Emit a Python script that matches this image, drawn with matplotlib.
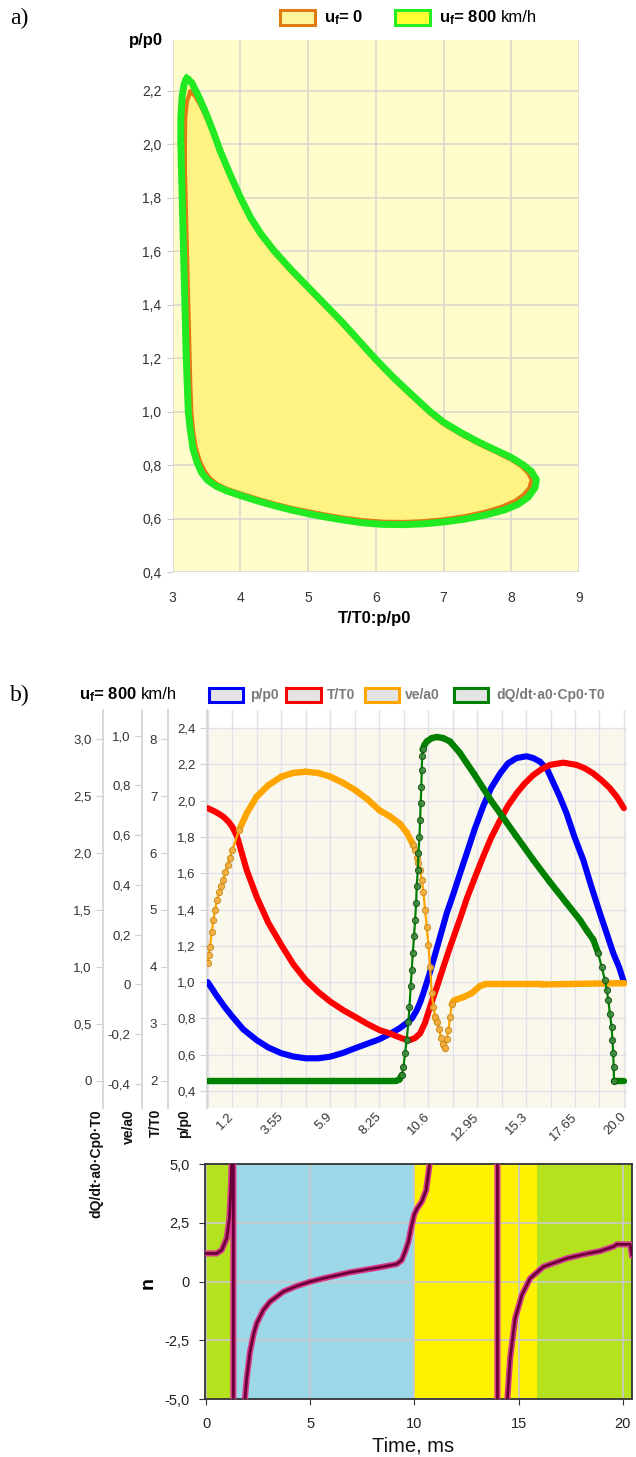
import numpy as np
import matplotlib
matplotlib.use('Agg')
import matplotlib.pyplot as plt
from matplotlib.patches import Rectangle
from matplotlib.collections import LineCollection
import matplotlib.patheffects as pe

# ---------------- DATA ----------------
# Panel a: closed cycles  (x = T/T0:p/p0, y = p/p0)
loop800_x = [3.21, 3.28, 3.38, 3.5, 3.6, 3.7, 3.85, 4.0, 4.15, 4.3,
             4.5, 4.75, 5.0, 5.25, 5.5, 5.75, 6.0, 6.25, 6.5, 6.8,
             7.0, 7.25, 7.5, 7.75, 8.0, 8.18, 8.3, 8.37, 8.35, 8.25,
             8.1, 7.9, 7.6, 7.3, 7.0, 6.7, 6.4, 6.1, 5.8, 5.5,
             5.2, 5.0, 4.75, 4.5, 4.25, 4.0, 3.8, 3.65, 3.52, 3.43,
             3.36, 3.3, 3.26, 3.23, 3.215, 3.2, 3.19, 3.18, 3.17, 3.16,
             3.15, 3.14, 3.13, 3.12, 3.12, 3.14, 3.17, 3.21]
loop800_y = [2.245, 2.23, 2.18, 2.11, 2.045, 1.975, 1.885, 1.80, 1.725, 1.665,
             1.60, 1.53, 1.465, 1.40, 1.335, 1.265, 1.195, 1.13, 1.07, 1.0,
             0.96, 0.922, 0.888, 0.858, 0.828, 0.80, 0.775, 0.745, 0.715, 0.68,
             0.653, 0.632, 0.612, 0.597, 0.587, 0.58, 0.577, 0.578, 0.584, 0.595,
             0.608, 0.618, 0.632, 0.648, 0.666, 0.686, 0.703, 0.72, 0.742, 0.77,
             0.81, 0.86, 0.93, 1.0, 1.1, 1.2, 1.3, 1.4, 1.5, 1.6,
             1.7, 1.8, 1.9, 2.0, 2.1, 2.18, 2.225, 2.245]
loop0_x = [3.26, 3.33, 3.42, 3.52, 3.62, 3.72, 3.86, 4.0, 4.15, 4.3,
           4.5, 4.75, 5.0, 5.25, 5.5, 5.75, 6.0, 6.25, 6.5, 6.8,
           7.0, 7.25, 7.5, 7.75, 8.0, 8.15, 8.25, 8.3, 8.27, 8.18,
           8.05, 7.85, 7.6, 7.3, 7.0, 6.7, 6.4, 6.1, 5.8, 5.5,
           5.2, 5.0, 4.75, 4.5, 4.25, 4.0, 3.8, 3.66, 3.55, 3.47,
           3.4, 3.34, 3.3, 3.275, 3.26, 3.25, 3.24, 3.23, 3.22, 3.21,
           3.2, 3.19, 3.18, 3.18, 3.185, 3.21, 3.26]
loop0_y = [2.195, 2.18, 2.14, 2.085, 2.025, 1.96, 1.876, 1.793, 1.718, 1.658,
           1.593, 1.523, 1.458, 1.393, 1.328, 1.258, 1.188, 1.123, 1.063, 0.993,
           0.953, 0.915, 0.881, 0.851, 0.82, 0.795, 0.77, 0.745, 0.715, 0.688,
           0.665, 0.643, 0.624, 0.608, 0.597, 0.59, 0.587, 0.588, 0.594, 0.604,
           0.617, 0.627, 0.64, 0.656, 0.674, 0.694, 0.711, 0.728, 0.75, 0.778,
           0.815, 0.865, 0.93, 1.0, 1.1, 1.2, 1.3, 1.4, 1.5, 1.6,
           1.7, 1.8, 1.9, 2.0, 2.1, 2.16, 2.195]
a_xticks = [3, 4, 5, 6, 7, 8, 9]
a_xticklabels = ['3', '4', '5', '6', '7', '8', '9']
a_yticks = [0.4, 0.6, 0.8, 1.0, 1.2, 1.4, 1.6, 1.8, 2.0, 2.2]
a_yticklabels = ['0,4', '0,6', '0,8', '1,0', '1,2', '1,4', '1,6', '1,8', '2,0', '2,2']

# Panel b: time series (ms)
time_p = [0, 0.4, 0.8, 1.18, 1.7, 2.35, 2.9, 3.53, 4.1, 4.7,
          5.3, 5.88, 6.5, 7.06, 7.65, 8.24, 8.75, 9.2, 9.55, 9.8,
          10.03, 10.2, 10.35, 10.6, 10.83, 11.15, 11.47, 11.8, 12.11, 12.43,
          12.8, 13.22, 13.6, 14.03, 14.4, 14.82, 15.3, 15.62, 15.95, 16.3,
          16.58, 16.9, 17.22, 17.6, 18.02, 18.4, 18.82, 19.2, 19.46, 19.75, 19.97]
p_p0 = [1.0, 0.93, 0.865, 0.81, 0.74, 0.68, 0.64, 0.608, 0.59, 0.58,
        0.58, 0.589, 0.61, 0.635, 0.66, 0.685, 0.715, 0.745, 0.775, 0.80,
        0.845, 0.89, 0.94, 1.03, 1.12, 1.25, 1.38, 1.49, 1.60, 1.71,
        1.84, 1.97, 2.07, 2.15, 2.205, 2.235, 2.245, 2.235, 2.215, 2.17,
        2.1, 2.02, 1.93, 1.80, 1.674, 1.53, 1.38, 1.25, 1.16, 1.08, 1.0]

time_T = [0, 0.4, 0.75, 1.0, 1.18, 1.4, 1.55, 1.87, 2.35, 2.9,
          3.53, 4.1, 4.7, 5.3, 5.88, 6.5, 7.06, 7.65, 8.24, 8.75,
          9.07, 9.4, 9.71, 9.95, 10.19, 10.43, 10.67, 11.0, 11.31, 11.63,
          12.11, 12.43, 12.8, 13.22, 13.6, 14.03, 14.4, 14.82, 15.2, 15.62,
          16.0, 16.42, 17.06, 17.7, 18.1, 18.5, 18.9, 19.3, 19.65, 19.97]
T_T0 = [6.79, 6.72, 6.64, 6.55, 6.46, 6.3, 6.11, 5.70, 5.23, 4.78,
        4.385, 4.05, 3.77, 3.56, 3.39, 3.24, 3.125, 3.0, 2.89, 2.83,
        2.78, 2.735, 2.715, 2.75, 2.83, 3.02, 3.30, 3.65, 4.0, 4.35,
        4.85, 5.2, 5.55, 5.94, 6.27, 6.58, 6.83, 7.05, 7.22, 7.37,
        7.47, 7.55, 7.59, 7.55, 7.49, 7.40, 7.28, 7.14, 6.98, 6.79]

time_ve = [0.0, 0.05, 0.11, 0.19, 0.27, 0.35, 0.45, 0.55, 0.65, 0.75, 0.85, 0.95, 1.06, 1.18,
           1.5, 1.87, 2.35, 2.9, 3.53, 4.1, 4.7, 5.3, 5.88, 6.5, 7.06, 7.65, 8.24, 8.75, 9.23, 9.55, 9.87,
           9.95, 10.03, 10.11, 10.19, 10.27, 10.35, 10.43, 10.51, 10.59, 10.67, 10.75, 10.83, 10.91,
           11.0, 11.1, 11.2, 11.3, 11.39, 11.47, 11.55, 11.63, 11.71,
           11.8, 11.95, 12.3, 12.67, 13.07, 13.3, 14.5, 16.0, 17.5, 19.0, 20.0]
ve_a0 = [0.085, 0.12, 0.152, 0.21, 0.259, 0.30, 0.34, 0.37, 0.395, 0.42, 0.45, 0.48, 0.51, 0.54,
         0.62, 0.688, 0.755, 0.80, 0.835, 0.85, 0.855, 0.85, 0.835, 0.81, 0.782, 0.745, 0.70, 0.675, 0.645, 0.61, 0.56,
         0.54, 0.51, 0.49, 0.46, 0.42, 0.37, 0.30, 0.23, 0.16, 0.07, -0.035, -0.09, -0.13,
         -0.15, -0.18, -0.215, -0.24, -0.257, -0.22, -0.183, -0.13, -0.08,
         -0.066, -0.06, -0.05, -0.035, -0.006, 0.0, 0.0, 0.0, 0.002, 0.004, 0.005]

time_dq = [0.0, 2.0, 4.0, 6.0, 8.0, 9.05, 9.2,
           9.31, 9.39, 9.47, 9.55, 9.63, 9.68, 9.74, 9.79, 9.84, 9.90, 9.95,
           10.0, 10.03, 10.08, 10.11, 10.16, 10.19, 10.22, 10.25, 10.27, 10.29, 10.31,
           10.4, 10.51, 10.75, 11.0, 11.3, 11.63, 12.1, 12.43, 12.8, 13.22, 13.6, 14.03, 14.8,
           15.62, 16.4, 17.22, 17.87, 18.19, 18.5,
           18.74, 18.9, 19.06, 19.15, 19.22, 19.3, 19.38, 19.42, 19.46, 19.48, 19.5, 19.75, 20.0]
dq = [0, 0, 0, 0, 0, 0, 0.01,
      0.05, 0.12, 0.24, 0.36, 0.52, 0.65, 0.83, 0.97, 1.12, 1.27, 1.41,
      1.56, 1.71, 1.85, 2.0, 2.14, 2.29, 2.44, 2.58, 2.73, 2.85, 2.91,
      2.95, 2.98, 3.01, 3.02, 3.01, 2.98, 2.88, 2.79, 2.69, 2.57, 2.46, 2.35, 2.15,
      1.94, 1.75, 1.56, 1.41, 1.32, 1.24,
      1.12, 1.0, 0.885, 0.80, 0.71, 0.59, 0.475, 0.36, 0.24, 0.12, 0.0, 0.0, 0.0]

b_xticks = [0, 1.175, 2.35, 3.525, 4.7, 5.875, 7.05, 8.225, 9.4, 10.575,
            11.75, 12.925, 14.1, 15.275, 16.45, 17.625, 18.8, 19.975]
b_xticklabels = ['', '1.2', '', '3.55', '', '5.9', '', '8.25', '', '10.6',
                 '', '12.95', '', '15.3', '', '17.65', '', '20.0']
p_ticks = [0.4, 0.6, 0.8, 1.0, 1.2, 1.4, 1.6, 1.8, 2.0, 2.2, 2.4]
p_labels = ['0,4', '0,6', '0,8', '1,0', '1,2', '1,4', '1,6', '1,8', '2,0', '2,2', '2,4']
T_ticks = [2, 3, 4, 5, 6, 7, 8]
T_labels = ['2', '3', '4', '5', '6', '7', '8']
ve_ticks = [-0.4, -0.2, 0.0, 0.2, 0.4, 0.6, 0.8, 1.0]
ve_labels = ['-0,4', '-0,2', '0', '0,2', '0,4', '0,6', '0,8', '1,0']
dq_ticks = [0, 0.5, 1.0, 1.5, 2.0, 2.5, 3.0]
dq_labels = ['0', '0,5', '1,0', '1,5', '2,0', '2,5', '3,0']

# Panel c: n(t)
time_n = [0.0, 0.51, 0.75, 0.99, 1.12, 1.2, 1.25, 1.31, 1.31, 1.8,
          1.87, 1.95, 2.11, 2.27, 2.43, 2.75, 3.07, 3.71, 4.35, 5.0,
          5.63, 6.91, 8.51, 9.15, 9.39, 9.55, 9.71, 9.87, 9.98, 10.11,
          10.35, 10.56, 10.72, 10.8, 13.98, 13.98, 14.4, 14.46, 14.59, 14.83,
          15.15, 15.55, 16.19, 17.31, 18.11, 18.91, 19.3, 19.55, 19.71, 20.35, 20.43]
n_vals = [1.2, 1.2, 1.34, 1.84, 2.69, 4.1, 6.0, 60, -60, -8,
          -4.93, -4.11, -2.975, -2.27, -1.77, -1.207, -0.85, -0.425, -0.187, 0.0,
          0.14, 0.395, 0.637, 0.748, 0.918, 1.275, 1.70, 2.405, 2.83, 3.085,
          3.40, 3.89, 4.955, 7.0, 60, -60, -7.0, -4.93, -3.26, -1.56,
          -0.57, 0.14, 0.637, 0.99, 1.16, 1.30, 1.42, 1.49, 1.585, 1.585, 1.13]
band_edges = [-0.05, 1.31, 10.0, 15.87, 20.45]
band_colors = ['#B4E21E', '#9DD8E8', '#FFF200', '#B4E21E']
c_xticks = [0, 5, 10, 15, 20]
c_yticks = [-5.0, -2.5, 0.0, 2.5, 5.0]
c_ylabels = ['-5,0', '-2,5', '0', '2,5', '5,0']

# ---------------- STYLE ----------------
plt.rcParams['font.family'] = ['Liberation Sans', 'DejaVu Sans']
plt.rcParams['mathtext.fontset'] = 'custom'
plt.rcParams['mathtext.rm'] = 'Liberation Sans'
plt.rcParams['mathtext.bf'] = 'Liberation Sans:bold'
plt.rcParams['mathtext.it'] = 'Liberation Sans:italic'

W, H = 636, 1457
fig = plt.figure(figsize=(W / 100, H / 100), dpi=100)


def fx(px):
    return px / W


def fy(py):
    return 1 - py / H


def uf_label(x_px, y_px, value, tail, size=12):
    t1 = fig.text(fx(x_px), fy(y_px), r'$\mathbf{u_f}$= ' + value, fontsize=size,
                  fontweight='bold', ha='left', va='center')
    if tail:
        fig.canvas.draw()
        bb = t1.get_window_extent(fig.canvas.get_renderer())
        fig.text(bb.x1 / W + fx(3.5), fy(y_px), tail, fontsize=size, ha='left', va='center')


# ---------------- PANEL A ----------------
a_top, a_bot = 40.0, 572.0
axa = fig.add_axes([fx(172.7), fy(a_bot), fx(579) - fx(172.7), (a_bot - a_top) / H])
axa.set_facecolor('#FFFDCB')
axa.fill(loop800_x, loop800_y, color='#FFF796', lw=0, zorder=2)
axa.fill(loop0_x, loop0_y, color='#FFF383', lw=0, zorder=2.1)
axa.plot(loop0_x, loop0_y, color='#E07A12', lw=3.0, zorder=3, solid_joinstyle='round')
axa.plot(loop800_x, loop800_y, color='#22EA22', lw=5.0, zorder=4, solid_joinstyle='round')
axa.set_xlim(3, 9)
axa.set_ylim(0.4, 2.389)
axa.set_xticks(a_xticks)
axa.set_xticklabels(a_xticklabels)
axa.set_yticks(a_yticks)
axa.set_yticklabels(a_yticklabels)
axa.grid(True, color='#DADACB', lw=1.2)
axa.set_axisbelow(True)
for s in axa.spines.values():
    s.set_visible(False)
axa.tick_params(axis='y', length=4, color='#CCCCCC', labelsize=10, labelcolor='#333333', pad=4)
axa.tick_params(axis='x', length=0, labelsize=10, labelcolor='#333333', pad=14)

fig.text(fx(10), fy(18), 'a)', family='Liberation Serif', fontsize=17, ha='left', va='center')
fig.text(fx(163), fy(40), 'p/p0', fontsize=12, fontweight='bold', ha='right', va='center')
fig.text(fx(375), fy(618), 'T/T0:p/p0', fontsize=12, fontweight='bold', ha='center', va='center')

fig.patches.append(Rectangle((fx(280), fy(25)), fx(35), 15 / H, transform=fig.transFigure,
                             facecolor='#FFF59A', edgecolor='#E07B10', lw=2.2))
uf_label(324, 17.5, '0', None)
fig.patches.append(Rectangle((fx(395), fy(25)), fx(35), 15 / H, transform=fig.transFigure,
                             facecolor='#FFFF33', edgecolor='#22EE22', lw=2.2))
uf_label(439, 17.5, '800', 'km/h')

# ---------------- PANEL B ----------------
bl, br, bt, bb_ = 206.7, 627.0, 710.0, 1108.0
axb = fig.add_axes([fx(bl), fy(bb_), fx(br) - fx(bl), (bb_ - bt) / H])
axb.set_facecolor('white')
axb.set_xlim(-0.05, 20.12)
axb.set_ylim(0.306, 2.5)
axb.axhspan(0.306, 2.4, color='#FAF8EC', lw=0, zorder=0)
axb.set_xticks(b_xticks)
axb.set_xticklabels(b_xticklabels)
axb.set_yticks(p_ticks)
axb.set_yticklabels(p_labels)
axb.grid(True, color='#E1E1E8', lw=1.0)
axb.set_axisbelow(True)
for k in ['top', 'right', 'bottom']:
    axb.spines[k].set_visible(False)
axb.spines['left'].set_color('#D8D8D8')
axb.spines['left'].set_linewidth(1.4)
axb.tick_params(axis='y', length=5, color='#D0D0D0', labelsize=9.5, labelcolor='#333333', pad=3)
axb.tick_params(axis='x', length=0, labelsize=9.5, labelcolor='#333333', pad=5)
for lab in axb.get_xticklabels():
    lab.set_rotation(45)
    lab.set_ha('right')
    lab.set_va('center')
    lab.set_rotation_mode('anchor')

axb.plot(time_p, p_p0, color='#0000FF', lw=4.4, solid_capstyle='round', zorder=3)


def side_axis(spine_px, ylim, ticks, labels):
    a = axb.twinx()
    a.set_ylim(*ylim)
    for k in ['right', 'top', 'bottom']:
        a.spines[k].set_visible(False)
    a.spines['left'].set_visible(True)
    a.spines['left'].set_position(('axes', (spine_px - bl) / (br - bl)))
    a.spines['left'].set_color('#D8D8D8')
    a.spines['left'].set_linewidth(1.4)
    a.yaxis.set_ticks_position('left')
    a.yaxis.set_label_position('left')
    a.set_yticks(ticks)
    a.set_yticklabels(labels)
    a.tick_params(axis='y', length=5, color='#D0D0D0', labelsize=9.5, labelcolor='#333333', pad=3)
    return a


axT = side_axis(168.3, (1.52, 8.515), T_ticks, T_labels)
axT.plot(time_T, T_T0, color='#FF0000', lw=4.4, solid_capstyle='round', zorder=3)

axV = side_axis(141.7, (-0.4965, 1.103), ve_ticks, ve_labels)
axQ = side_axis(102.7, (-0.24, 3.257), dq_ticks, dq_labels)


def dotted_series(ax, t, v, pxfac, thr, color, mface, medge):
    t = np.asarray(t, float)
    v = np.asarray(v, float)
    slope = np.abs(np.diff(v) / np.diff(t)) * pxfac
    steep = slope > thr
    segs = [[(t[i], v[i]), (t[i + 1], v[i + 1])] for i in range(len(t) - 1)]
    lws = [1.6 if s else 4.6 for s in steep]
    lc = LineCollection(segs, colors=color, linewidths=lws, capstyle='round', joinstyle='round', zorder=3)
    ax.add_collection(lc)
    pts = np.zeros(len(t), bool)
    pts[:-1] |= steep
    pts[1:] |= steep
    ax.plot(t[pts], v[pts], ls='none', marker='o', ms=4.4, mfc=mface, mec=medge, mew=0.8,
            alpha=0.9, zorder=4)


dotted_series(axV, time_ve, ve_a0, 248.8 / 20.84, 2.8, '#FFA500', '#F5B041', '#C98A1A')
dotted_series(axQ, time_dq, dq, 113.8 / 20.84, 3.5, '#008000', '#3C8C3C', '#145214')

fig.text(fx(10), fy(695), 'b)', family='Liberation Serif', fontsize=17, ha='left', va='center')
uf_label(79, 695, '800', 'km/h')
legend_items = [(208.6, 250, '#0000FF', 'p/p0'), (286, 327, '#FF0000', 'T/T0'),
                (364.5, 405, '#FFA500', 've/a0'), (453.6, 496, '#008000', 'dQ/dt·a0·Cp0·T0')]
for bx, tx, col, lab in legend_items:
    fig.patches.append(Rectangle((fx(bx), fy(702)), fx(34.5), 14 / H, transform=fig.transFigure,
                                 facecolor='#E4E4E4', edgecolor=col, lw=2.2))
    fig.text(fx(tx), fy(695), lab, fontsize=10, fontweight='bold', color='#7A7A7A', ha='left', va='center')

for xc, lab in [(96, 'dQ/dt·a0·Cp0·T0'), (129, 've/a0'), (156, 'T/T0'), (184, 'p/p0')]:
    fig.text(fx(xc), fy(1109), lab, fontsize=10, fontweight='bold', rotation=90,
             ha='center', va='top', color='#111111')

# ---------------- PANEL C ----------------
cl, cr, ct, cb = 205.0, 632.3, 1164.0, 1399.3
axc = fig.add_axes([fx(cl), fy(cb), fx(cr) - fx(cl), (cb - ct) / H])
for i in range(len(band_colors)):
    axc.axvspan(band_edges[i], band_edges[i + 1], color=band_colors[i], lw=0, zorder=0)
axc.plot(time_n, n_vals, color='#6B0036', lw=2.0, zorder=3,
         path_effects=[pe.Stroke(linewidth=4.4, foreground='#D63A8C'), pe.Normal()])
axc.set_xlim(-0.05, 20.45)
axc.set_ylim(-5, 5)
axc.set_xticks(c_xticks)
axc.set_yticks(c_yticks)
axc.set_yticklabels(c_ylabels)
axc.grid(True, color='#C9C9C9', lw=1.2)
axc.set_axisbelow(True)
for s in axc.spines.values():
    s.set_color('#333333')
    s.set_linewidth(1.3)
axc.tick_params(axis='y', length=4, color='#333333', labelsize=10.5, labelcolor='#222222', pad=7)
axc.tick_params(axis='x', length=4, color='#333333', labelsize=10.5, labelcolor='#222222', pad=9)
fig.text(fx(412.7), fy(1446), 'Time, ms', fontsize=14.5, ha='center', va='center', color='#111111')
fig.text(fx(148), fy(1283), 'n', fontsize=14, fontweight='bold', rotation=90, ha='center', va='center')

fig.savefig('out.png', dpi=100)
